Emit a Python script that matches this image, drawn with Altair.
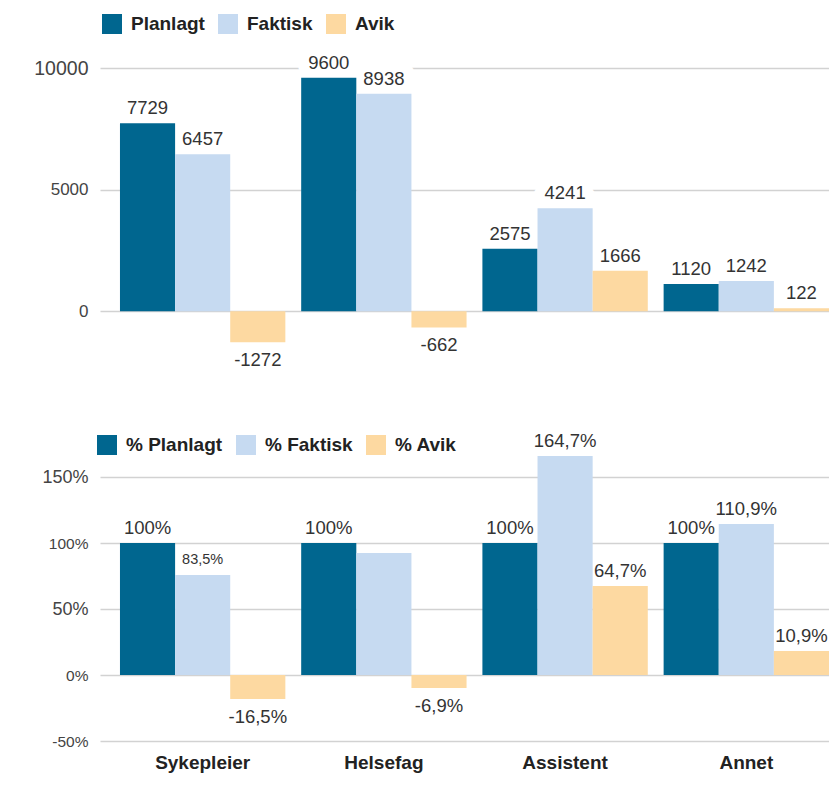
import altair as alt
import pandas as pd

# ---------------- data ----------------
categories = ["Sykepleier", "Helsefag", "Assistent", "Annet"]

series_abs = ["Planlagt", "Faktisk", "Avik"]
planlagt = [7729, 9600, 2575, 1120]
faktisk = [6457, 8938, 4241, 1242]
avik = [-1272, -662, 1666, 122]

series_pct = ["% Planlagt", "% Faktisk", "% Avik"]
# bar heights as drawn in the picture
pct_planlagt = [100, 100, 100, 100]
pct_faktisk = [75.8, 92.4, 165.9, 114.4]
pct_avik = [-18.2, -9.8, 67.4, 18.2]
# printed labels
lbl_planlagt = ["100%", "100%", "100%", "100%"]
lbl_faktisk = ["83,5%", "", "164,7%", "110,9%"]
lbl_avik = ["-16,5%", "-6,9%", "64,7%", "10,9%"]

abs_ticks = [0, 5000, 10000]
pct_ticks = [-50, 0, 50, 100, 150]
colors = ["#00668f", "#c6daf1", "#fdd9a1"]

# ---------------- tables ----------------
rows = []
for s, vals in zip(series_abs, [planlagt, faktisk, avik]):
    for c, v in zip(categories, vals):
        rows.append({"cat": c, "series": s, "value": v, "label": str(v)})
df_abs = pd.DataFrame(rows)

rows = []
for s, vals, lbls in zip(series_pct, [pct_planlagt, pct_faktisk, pct_avik],
                         [lbl_planlagt, lbl_faktisk, lbl_avik]):
    for c, v, l in zip(categories, vals, lbls):
        rows.append({"cat": c, "series": s, "value": v, "label": l})
df_pct = pd.DataFrame(rows)

FONT = "Liberation Sans"
W = 729
GRID = "#d2d2d2"


def legend(lx, ly):
    return alt.Legend(
        title=None, orient="none", legendX=lx, legendY=ly, direction="horizontal",
        symbolType="square", symbolSize=400, symbolStrokeWidth=0, symbolOpacity=1,
        labelFontSize=19, labelFontWeight="bold", labelColor="#222", labelFont=FONT,
        labelOffset=9, columnPadding=13, padding=0,
    )


def make_panel(df, series, domain, ticks, axis_kwargs, height, x_axis, lx, ly, halo):
    base = alt.Chart(df)
    x = alt.X("cat:N", sort=categories,
              scale=alt.Scale(type="band", paddingInner=0.0874, paddingOuter=0.0551, align=1),
              axis=x_axis)
    xo = alt.XOffset("series:N", sort=series,
                     scale=alt.Scale(type="band", paddingInner=0, paddingOuter=0))
    y = alt.Y("value:Q", scale=alt.Scale(domain=domain, nice=False, zero=False),
              axis=alt.Axis(values=ticks, title=None, domain=False, ticks=False,
                            labelPadding=12, minExtent=87, maxExtent=87,
                            grid=True, gridColor=GRID, gridWidth=1.5,
                            labelColor="#444", labelFont=FONT, **axis_kwargs))
    bars = base.mark_bar(stroke=None).encode(
        x=x, xOffset=xo, y=y,
        color=alt.Color("series:N", sort=series,
                        scale=alt.Scale(domain=series, range=colors),
                        legend=legend(lx, ly)),
    )
    size = alt.condition("datum.label === '83,5%'", alt.value(14.5), alt.value(18.5))
    pos = base.transform_filter("datum.value >= 0").mark_text(
        dy=-15, baseline="middle", color="#333", font=FONT
    ).encode(x=x, xOffset=xo, y=y, text="label:N", size=size)
    neg = base.transform_filter("datum.value < 0").mark_text(
        dy=18, baseline="middle", color="#333", font=FONT
    ).encode(x=x, xOffset=xo, y=y, text="label:N", size=size)
    layers = [bars]
    if halo:
        layers.insert(0, base.transform_filter("datum.value >= 0").mark_text(
            dy=-15, baseline="middle", fill="white", stroke="white", strokeWidth=22,
            strokeJoin="round", font=FONT, fontSize=18.5
        ).encode(x=x, xOffset=xo, y=y, text="label:N"))
    layers += [pos, neg]
    return alt.layer(*layers).properties(width=W, height=height)


top = make_panel(
    df_abs, series_abs, [-2000, 10000], abs_ticks,
    dict(format="d",
         labelFontSize={"condition": {"test": "datum.value === 10000", "value": 19.5},
                        "value": 17}),
    292, None, 2, -54, True,
)

bottom = make_panel(
    df_pct, series_pct, [-50, 175], pct_ticks,
    dict(labelExpr="datum.value + '%'",
         labelFontSize={"condition": {"test": "datum.value === 150 || datum.value === 50",
                                      "value": 18}, "value": 15.5}),
    297,
    alt.Axis(title=None, domain=False, ticks=False, labelAngle=0, labelFontSize=19,
             labelFontWeight="bold", labelColor="#222", labelFont=FONT, labelPadding=12),
    -3, -9, False,
)

chart = alt.vconcat(top, bottom, spacing=84, bounds="flush").resolve_scale(
    color="independent", x="independent", y="independent", xOffset="independent"
).resolve_legend(color="independent").properties(
    padding={"left": 5, "top": 6, "right": 0, "bottom": 2}
).configure(font=FONT).configure_view(stroke=None, strokeWidth=0)

chart.save("out.html", embed_options={"renderer": "svg", "actions": False})
